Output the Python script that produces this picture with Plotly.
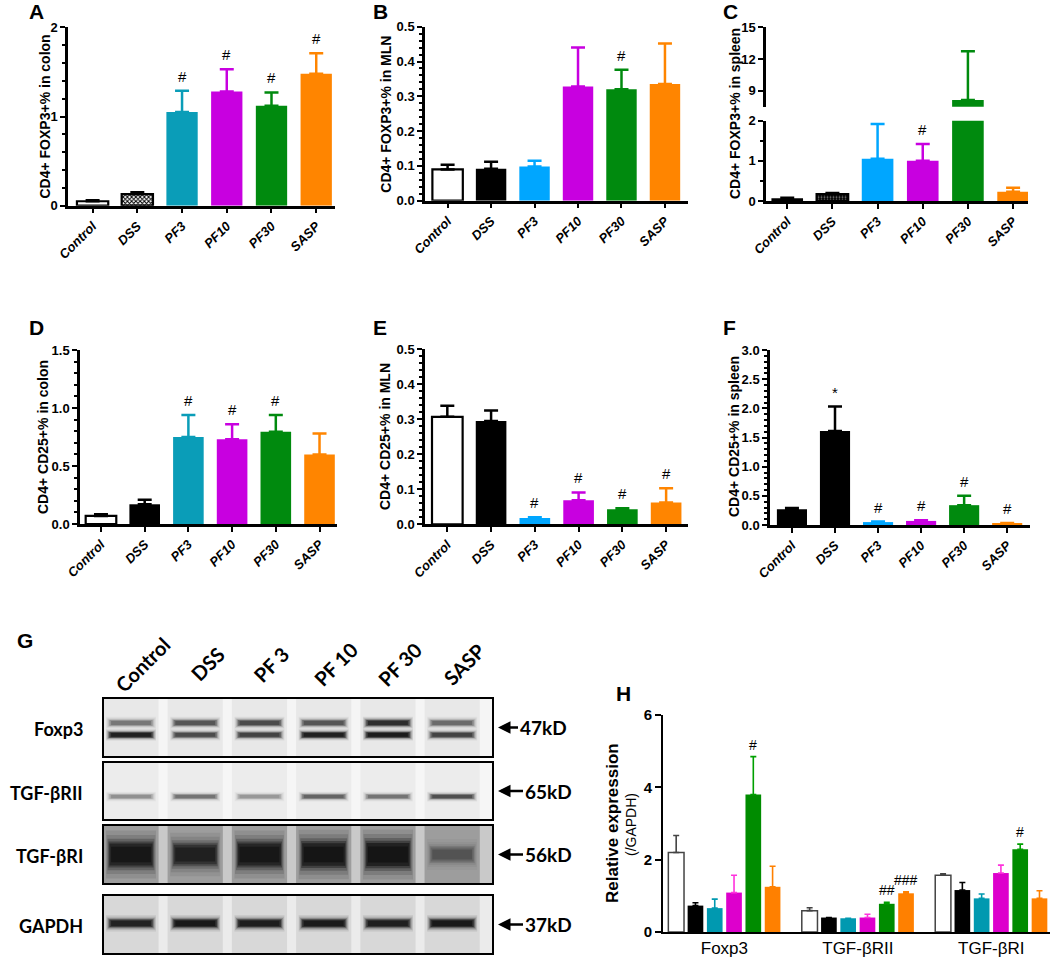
import plotly.graph_objects as go

# ---------------- data ----------------
groups = ["Control", "DSS", "PF3", "PF10", "PF30", "SASP"]

a_mean = [0.05, 0.13, 1.05, 1.28, 1.12, 1.48]
a_sem = [0.01, 0.02, 0.24, 0.25, 0.15, 0.23]
a_sig = ["", "", "#", "#", "#", "#"]

b_mean = [0.090, 0.092, 0.098, 0.328, 0.320, 0.335]
b_sem = [0.013, 0.020, 0.017, 0.112, 0.056, 0.117]
b_sig = ["", "", "", "", "#", ""]

c_mean = [0.07, 0.17, 1.05, 1.00, 8.13, 0.23]
c_sem = [0.01, 0.03, 0.87, 0.42, 4.60, 0.10]
c_sig = ["", "", "", "#", "", ""]

d_mean = [0.07, 0.17, 0.75, 0.73, 0.795, 0.60]
d_sem = [0.015, 0.04, 0.19, 0.13, 0.145, 0.18]
d_sig = ["", "", "#", "#", "#", ""]

e_mean = [0.307, 0.295, 0.018, 0.069, 0.043, 0.062]
e_sem = [0.032, 0.030, 0.002, 0.022, 0.003, 0.041]
e_sig = ["", "", "#", "#", "#", "#"]

f_mean = [0.27, 1.61, 0.05, 0.07, 0.34, 0.03]
f_sem = [0.02, 0.42, 0.01, 0.01, 0.16, 0.005]
f_sig = ["", "*", "#", "#", "#", "#"]

# western blot (band darkness 0..1, read by eye)
blot_lanes = ["Control", "DSS", "PF 3", "PF 10", "PF 30", "SASP"]
blot_rows = ["Foxp3", "TGF-βRII", "TGF-βRI", "GAPDH"]
blot_kd = ["47kD", "65kD", "56kD", "37kD"]
foxp3_upper = [0.30, 0.45, 0.50, 0.45, 0.70, 0.35]
foxp3_lower = [0.85, 0.50, 0.55, 0.85, 0.90, 0.55]
tgfbr2_band = [0.22, 0.32, 0.20, 0.38, 0.32, 0.48]
tgfbr1_band = [0.92, 0.75, 0.92, 0.97, 1.00, 0.30]
gapdh_band = [0.80, 0.95, 0.88, 0.90, 0.85, 0.95]

# panel H
h_cats = ["Foxp3", "TGF-βRII", "TGF-βRI"]
h_mean = {
    "Control": [2.20, 0.59, 1.57],
    "DSS": [0.73, 0.40, 1.16],
    "PF3": [0.66, 0.38, 0.93],
    "PF10": [1.09, 0.40, 1.63],
    "PF30": [3.80, 0.78, 2.29],
    "SASP": [1.25, 1.07, 0.93],
}
h_sem = {
    "Control": [0.47, 0.08, 0.04],
    "DSS": [0.08, 0.00, 0.21],
    "PF3": [0.25, 0.00, 0.12],
    "PF10": [0.48, 0.09, 0.22],
    "PF30": [1.05, 0.04, 0.14],
    "SASP": [0.57, 0.04, 0.21],
}
h_sig = {
    "PF30": ["#", "##", "#"],
    "SASP": ["", "###", ""],
}

# ---------------- style ----------------
W, H = 1052, 957
FONT = "Liberation Sans"
BFONT = "Lato"
TEAL = "#0A9DB8"
SKY = "#00A6FF"
MAG = "#C800E0"
GREEN = "#008A0E"
ORANGE = "#FF8500"


def px_x(p):
    return p / W


def px_y(p):
    return 1 - p / H


fig = go.Figure()
annotations = []
shapes = []

WHITE_BAR = dict(fill="white", line="black", err="black", pattern=None)
BLACK_BAR = dict(fill="black", line="black", err="black", pattern=None)
CHECK_BAR = dict(fill="white", line="black", err="black",
                 pattern=dict(shape="x", fgcolor="black", bgcolor="white", size=3, solidity=0.55))
DOT_BAR = dict(fill="black", line="black", err="black",
               pattern=dict(shape=".", fgcolor="#777777", bgcolor="black", size=3, solidity=0.3))


def col(c):
    return dict(fill=c, line=c, err=c, pattern=None)


def add_panel(xa, ya, means, sems, sigs, styles, sig_size=15):
    for i, g in enumerate(groups):
        st = styles[i]
        outlined = st["fill"] == "white" or st["pattern"] is not None
        marker = dict(color=st["fill"], line=dict(color=st["line"], width=2.2 if outlined else 0))
        if st["pattern"]:
            marker["pattern"] = st["pattern"]
        fig.add_trace(go.Bar(
            x=[g], y=[means[i]], xaxis=xa, yaxis=ya, width=0.7,
            marker=marker,
            error_y=dict(type="data", array=[sems[i]], arrayminus=[0], symmetric=False,
                         color=st["err"], thickness=2.5, width=7),
            showlegend=False, hoverinfo="skip"))
        if sigs[i]:
            annotations.append(dict(
                x=g, y=means[i] + sems[i], xref=xa, yref=ya, text=sigs[i],
                showarrow=False, yanchor="bottom", yshift=4,
                font=dict(family=FONT, size=sig_size, color="black")))


def top_x(domain, rng, anchor, visible=True):
    return dict(domain=domain, range=rng, type="category", categoryorder="array",
                categoryarray=groups, anchor=anchor, showline=visible, linecolor="black",
                linewidth=2.5, ticks="outside" if visible else "", ticklen=5, tickwidth=2,
                tickcolor="black", tickangle=-45, showticklabels=visible, automargin=False,
                tickfont=dict(family=FONT, size=13, weight="bold", style="italic", color="black"),
                showgrid=False, zeroline=False, fixedrange=True)


def top_y(domain, rng, anchor, dtick=None, minor=None, fmt=None, tickvals=None):
    d = dict(domain=domain, range=rng, anchor=anchor, showline=True, linecolor="black",
             linewidth=2.5, ticks="outside", ticklen=5, tickwidth=2, tickcolor="black",
             tickfont=dict(family=FONT, size=13, weight="bold", color="black"), automargin=False,
             showgrid=False, zeroline=False, fixedrange=True)
    if dtick is not None:
        d["dtick"] = dtick
        d["tick0"] = 0
    if tickvals is not None:
        d["tickvals"] = tickvals
    if fmt:
        d["tickformat"] = fmt
    if minor:
        d["minor"] = dict(dtick=minor, ticklen=3, tickwidth=1.5, tickcolor="black", ticks="outside")
    return d


# ---------- Panel A ----------
add_panel("x", "y", a_mean, a_sem, a_sig,
          [WHITE_BAR, CHECK_BAR, col(TEAL), col(MAG), col(GREEN), col(ORANGE)])
# ---------- Panel B ----------
add_panel("x2", "y2", b_mean, b_sem, b_sig,
          [WHITE_BAR, BLACK_BAR, col(SKY), col(MAG), col(GREEN), col(ORANGE)])
# ---------- Panel C (broken axis: lower + upper) ----------
c_styles = [BLACK_BAR, DOT_BAR, col(SKY), col(MAG), col(GREEN), col(ORANGE)]
add_panel("x3", "y3", c_mean, c_sem, c_sig, c_styles)
add_panel("x4", "y4", c_mean, c_sem, ["", "", "", "", "", ""], c_styles)
# ---------- Panel D ----------
add_panel("x5", "y5", d_mean, d_sem, d_sig,
          [WHITE_BAR, BLACK_BAR, col(TEAL), col(MAG), col(GREEN), col(ORANGE)])
# ---------- Panel E ----------
add_panel("x6", "y6", e_mean, e_sem, e_sig,
          [WHITE_BAR, BLACK_BAR, col(SKY), col(MAG), col(GREEN), col(ORANGE)])
# ---------- Panel F ----------
add_panel("x7", "y7", f_mean, f_sem, f_sig,
          [BLACK_BAR, BLACK_BAR, col(SKY), col(MAG), col(GREEN), col(ORANGE)])

# ---------- Panel G: western blot drawn as bars ----------
row_style = [
    # background, lane smear alpha
    ("#f5f5f5", 0.05),
    ("#f6f6f6", 0.04),
    ("#c9c9c9", 0.22),
    ("#ebebeb", 0.08),
]
row_axes = [("x8", "y8"), ("x9", "y9"), ("x10", "y10"), ("x11", "y11")]
for r, (xa, ya) in enumerate(row_axes):
    bg, smear = row_style[r]
    shapes.append(dict(type="rect", xref=f"{xa} domain", yref=f"{ya} domain",
                       x0=0, x1=1, y0=0, y1=1, fillcolor=bg, line=dict(width=0), layer="below"))
    fig.add_trace(go.Bar(x=blot_lanes, y=[1] * len(blot_lanes), xaxis=xa, yaxis=ya, width=0.86,
                         marker=dict(color=f"rgba(0,0,0,{smear})", line=dict(width=0)),
                         showlegend=False, hoverinfo="skip"))


def add_band(xa, ya, dark, center, thick, grow=0.0):
    t = [thick * (1 - grow + grow * v) for v in dark]
    layers = [(2.2, 0.78, 0.10), (1.8, 0.76, 0.14), (1.45, 0.73, 0.25),
              (1.2, 0.70, 0.40), (1.0, 0.67, 0.60), (0.7, 0.62, 0.70)]
    for scale, width, alpha in layers:
        tt = [v * scale for v in t]
        fig.add_trace(go.Bar(
            x=blot_lanes, y=tt, base=[center - v / 2 for v in tt], xaxis=xa, yaxis=ya,
            width=width,
            marker=dict(color=[f"rgba(15,15,15,{alpha * v:.3f})" for v in dark], line=dict(width=0)),
            showlegend=False, hoverinfo="skip"))


add_band("x8", "y8", foxp3_upper, 0.58, 0.10)
add_band("x8", "y8", foxp3_lower, 0.37, 0.09)
add_band("x9", "y9", tgfbr2_band, 0.40, 0.08)
add_band("x10", "y10", tgfbr1_band, 0.50, 0.40, grow=0.55)
add_band("x11", "y11", gapdh_band, 0.52, 0.13)

for r, (xa, ya) in enumerate(row_axes):
    annotations.append(dict(x=px_x(85), xref="paper", y=0.47, yref=f"{ya} domain",
                            text=f"<b>{blot_rows[r]}</b>", showarrow=False, xanchor="right",
                            yanchor="middle", font=dict(family=BFONT, size=18, color="black")))
    annotations.append(dict(x=px_x(498), xref="paper", y=0.5, yref=f"{ya} domain",
                            text=f"<b>{blot_kd[r]}</b>", showarrow=True, arrowhead=2, arrowsize=1,
                            arrowwidth=2.5, arrowcolor="black", ax=45 if r == 0 else 50, ay=0,
                            standoff=0, font=dict(family=BFONT, size=19, color="black")))
for lane in blot_lanes:
    annotations.append(dict(x=lane, xref="x8", y=px_y(664), yref="paper", text=f"<b>{lane}</b>",
                            showarrow=False, textangle=-45, xshift=12, xanchor="center",
                            yanchor="middle", font=dict(family=BFONT, size=20, color="black")))

# ---------- Panel H ----------
h_fill = {"Control": "white", "DSS": "black", "PF3": "#0099B0", "PF10": "#DD00CC",
          "PF30": "#008C00", "SASP": "#FF8000"}
h_err = {"Control": "#444444", "DSS": "black", "PF3": "#0099B0", "PF10": "#FF33DD",
         "PF30": "#00A000", "SASP": "#FF8000"}
BW, STEP = 0.1175, 0.1445
off0 = -(5 * STEP + BW) / 2
for i, g in enumerate(groups):
    fig.add_trace(go.Bar(
        x=h_cats, y=h_mean[g], xaxis="x12", yaxis="y12", width=BW, offset=off0 + i * STEP,
        marker=dict(color=h_fill[g], line=dict(color="#444444" if g == "Control" else h_fill[g],
                                                width=1.5 if g == "Control" else 0)),
        error_y=dict(type="data", array=h_sem[g], arrayminus=[0, 0, 0], symmetric=False,
                     color=h_err[g], thickness=1.6, width=3),
        showlegend=False, hoverinfo="skip"))
    if g in h_sig:
        for k, s in enumerate(h_sig[g]):
            if s:
                annotations.append(dict(
                    x=k + off0 + i * STEP + BW / 2, xref="x12", y=h_mean[g][k] + h_sem[g][k],
                    yref="y12", text=s, showarrow=False, yanchor="bottom", yshift=2,
                    font=dict(family=FONT, size=14, color="black")))

# ---------- titles & letters ----------
ytitles = [
    ("CD4+ FOXP3+% in colon", 45, (27.3 + 205.7) / 2),
    ("CD4+ FOXP3+% in MLN", 386, (26.7 + 200.7) / 2),
    ("CD4+ FOXP3+% in spleen", 735, 114),
    ("CD4+ CD25+% in colon", 43, 437),
    ("CD4+ CD25+% in MLN", 385, 437),
    ("CD4+ CD25+% in spleen", 734, 437),
]
for t, x, y in ytitles:
    annotations.append(dict(x=px_x(x), y=px_y(y), xref="paper", yref="paper", text=f"<b>{t}</b>",
                            textangle=-90, showarrow=False, xanchor="center", yanchor="middle",
                            font=dict(family=FONT, size=14, color="black")))
annotations.append(dict(x=px_x(612), y=px_y(823), xref="paper", yref="paper",
                        text="<b>Relative expression</b>", textangle=-90, showarrow=False,
                        xanchor="center", yanchor="middle",
                        font=dict(family=FONT, size=17, color="black")))
annotations.append(dict(x=px_x(631), y=px_y(825), xref="paper", yref="paper",
                        text="(/GAPDH)", textangle=-90, showarrow=False,
                        xanchor="center", yanchor="middle",
                        font=dict(family=FONT, size=14, color="black")))

letters = [("A", 36, 12), ("B", 380, 12), ("C", 730, 12), ("D", 36, 327), ("E", 380, 327),
           ("F", 729, 327), ("G", 25, 640), ("H", 623, 693)]
for t, x, y in letters:
    annotations.append(dict(x=px_x(x), y=px_y(y), xref="paper", yref="paper", text=f"<b>{t}</b>",
                            showarrow=False, xanchor="center", yanchor="middle",
                            font=dict(family=FONT, size=21, color="black")))

# ---------- axes ----------
layout = dict(
    template="none",
    width=W, height=H, autosize=False,
    margin=dict(l=0, r=0, t=0, b=0, pad=0, autoexpand=False), barmode="overlay",
    plot_bgcolor="white", paper_bgcolor="white", showlegend=False,
    font=dict(family=FONT, color="black"),
    xaxis=top_x([px_x(68), px_x(335)], [-0.55, 5.42], "y"),
    yaxis=top_y([px_y(205.7), px_y(27.3)], [0, 2], "x", dtick=1, minor=0.2),
    xaxis2=top_x([px_x(425), px_x(688)], [-0.52, 5.53], "y2"),
    yaxis2=top_y([px_y(200.7), px_y(26.7)], [0, 0.5], "x2", dtick=0.1, minor=0.02, fmt=".1f"),
    xaxis3=top_x([px_x(766), px_x(1028)], [-0.47, 5.33], "y3"),
    yaxis3=top_y([px_y(201), px_y(120.7)], [0, 2], "x3", dtick=1, minor=0.5),
    xaxis4=top_x([px_x(766), px_x(1028)], [-0.47, 5.33], "y4", visible=False),
    yaxis4=top_y([px_y(106.7), px_y(27.3)], [7.5, 15], "x4", tickvals=[9, 12, 15]),
    xaxis5=top_x([px_x(80), px_x(337)], [-0.48, 5.40], "y5"),
    yaxis5=top_y([px_y(524), px_y(350)], [0, 1.5], "x5", dtick=0.5, minor=0.1, fmt=".1f"),
    xaxis6=top_x([px_x(425), px_x(688)], [-0.51, 5.50], "y6"),
    yaxis6=top_y([px_y(524.3), px_y(349.3)], [0, 0.5], "x6", dtick=0.1, minor=0.02, fmt=".1f"),
    xaxis7=top_x([px_x(770), px_x(1030)], [-0.51, 5.53], "y7"),
    yaxis7=top_y([px_y(525), px_y(350)], [0, 3], "x7", dtick=0.5, minor=0.1, fmt=".1f"),
    xaxis12=dict(domain=[px_x(663), px_x(1050)], range=[-0.46, 2.44], type="category",
                 categoryorder="array", categoryarray=h_cats, anchor="y12", showline=True,
                 linecolor="black", linewidth=1.6, ticks="", showgrid=False, zeroline=False,
                 automargin=False,
                 tickfont=dict(family=FONT, size=17, color="black"), fixedrange=True),
    yaxis12=dict(domain=[px_y(932), px_y(715)], range=[0, 6], dtick=2, anchor="x12",
                 showline=True, linecolor="black", linewidth=1.6, ticks="outside", ticklen=6,
                 tickwidth=1.6, tickcolor="black", showgrid=False, zeroline=False,
                 automargin=False,
                 tickfont=dict(family=FONT, size=15, weight="bold", color="black"), fixedrange=True),
    annotations=annotations, shapes=shapes,
)
blot_y = [(699, 756), (763, 819), (826, 883), (896, 953)]
for r, (xa, ya) in enumerate(row_axes):
    xn = "xaxis" + xa[1:]
    yn = "yaxis" + ya[1:]
    layout[xn] = dict(domain=[px_x(104), px_x(492)], range=[-0.42, 5.62], type="category",
                      categoryorder="array", categoryarray=blot_lanes, anchor=ya, automargin=False,
                      showticklabels=False, ticks="", showline=True, mirror=True, linewidth=2,
                      linecolor="black", showgrid=False, zeroline=False, fixedrange=True)
    layout[yn] = dict(domain=[px_y(blot_y[r][1]), px_y(blot_y[r][0])], range=[0, 1], anchor=xa,
                      showticklabels=False, ticks="", showline=True, mirror=True, linewidth=2,
                      automargin=False,
                      linecolor="black", showgrid=False, zeroline=False, fixedrange=True)

fig.update_layout(**layout)
fig.write_html("out.html", config={"displayModeBar": False},
               post_script="document.body.style.margin='0px';document.body.style.padding='0px';"
                           "document.body.style.overflow='hidden';")
